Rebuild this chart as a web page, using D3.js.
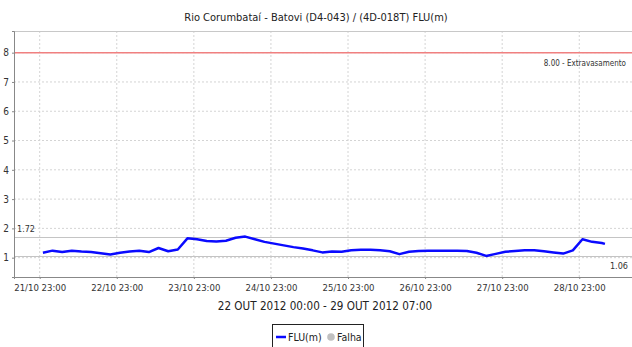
<!DOCTYPE html>
<html>
<head>
<meta charset="utf-8">
<script src="https://cdn.jsdelivr.net/npm/d3@7"></script>
<style>
  html, body { margin: 0; padding: 0; background: #fff; }
  svg { display: block; font-family: "DejaVu Sans Condensed", "DejaVu Sans", sans-serif; }
</style>
</head>
<body>
<svg id="chart" width="632" height="347"></svg>
<script>
// Series: hourly offsets from 22/10/2012 00:00 and river level FLU (m)
const startTime = new Date(2012, 9, 22, 0, 0);
const hours = [0, 3, 6, 9, 12, 15, 18, 21, 24, 27, 30, 33, 36, 39, 42, 45, 48, 51, 54, 57,
  60, 63, 66, 69, 72, 75, 78, 81, 84, 87, 90, 93, 96, 99, 102, 105, 108, 111, 114, 117,
  120, 123, 126, 129, 132, 135, 138, 141, 144, 147, 150, 153, 156, 159, 162, 165, 168, 171, 174, 175];
const levels = [1.17, 1.24, 1.19, 1.24, 1.21, 1.19, 1.15, 1.11, 1.17, 1.21, 1.24, 1.19, 1.33, 1.22, 1.28, 1.66, 1.63, 1.57, 1.55, 1.58,
  1.68, 1.72, 1.63, 1.54, 1.48, 1.42, 1.36, 1.31, 1.25, 1.18, 1.21, 1.20, 1.25, 1.27, 1.27, 1.25, 1.22, 1.12, 1.20, 1.23,
  1.24, 1.24, 1.24, 1.24, 1.23, 1.17, 1.06, 1.13, 1.20, 1.23, 1.25, 1.25, 1.22, 1.18, 1.14, 1.25, 1.63, 1.54, 1.50, 1.47];

// Axis ticks
const xTickDays = [21, 22, 23, 24, 25, 26, 27, 28];
const xTickLabels = ["21/10 23:00", "22/10 23:00", "23/10 23:00", "24/10 23:00", "25/10 23:00", "26/10 23:00", "27/10 23:00", "28/10 23:00"];
const yTicks = [1, 2, 3, 4, 5, 6, 7, 8];

// Reference levels
const floodLevel = 8.00;
const floodLabel = "8.00 - Extravasamento";

const title = "Rio Corumbataí - Batovi (D4-043) / (4D-018T) FLU(m)";
const xTitle = "22 OUT 2012 00:00 - 29 OUT 2012 07:00";
const legendItems = ["FLU(m)", "Falha"];

const data = hours.map((h, i) => ({ t: d3.timeHour.offset(startTime, h), v: levels[i] }));
const maxV = d3.max(levels), minV = d3.min(levels);

const svg = d3.select("#chart");
const plotL = 14, plotR = 636, plotT = 31, plotB = 277;

const x = d3.scaleTime()
  .domain([new Date(2012, 9, 21, 15, 0), new Date(2012, 9, 29, 16, 40)])
  .range([plotL, plotR]);
const y = d3.scaleLinear().domain([0.34, 8.74]).range([plotB, plotT]);

// Title
svg.append("text").attr("x", 316).attr("y", 21).attr("text-anchor", "middle")
  .attr("font-size", 11).attr("fill", "#222").text(title);

// Grid
const grid = svg.append("g");
grid.selectAll(".gy").data(yTicks).join("line")
  .attr("x1", plotL).attr("x2", plotR).attr("y1", d => y(d)).attr("y2", d => y(d))
  .attr("stroke", "#d4d4d4").attr("stroke-dasharray", "2,2");
const xTickDates = xTickDays.map(d => new Date(2012, 9, d, 23, 0));
grid.selectAll(".gx").data(xTickDates).join("line")
  .attr("x1", d => x(d)).attr("x2", d => x(d)).attr("y1", plotT).attr("y2", plotB)
  .attr("stroke", "#d4d4d4").attr("stroke-dasharray", "2,2");

// Plot frame top
svg.append("line").attr("x1", plotL).attr("x2", plotR).attr("y1", plotT + 0.5).attr("y2", plotT + 0.5)
  .attr("stroke", "#c8c8c8");

// Max / min lines
[maxV, minV].forEach(v => {
  svg.append("line").attr("x1", plotL).attr("x2", plotR)
    .attr("y1", Math.round(y(v)) + 0.5).attr("y2", Math.round(y(v)) + 0.5)
    .attr("stroke", "#c4c4c4").attr("stroke-width", 1);
});
svg.append("text").attr("x", plotL + 3).attr("y", y(maxV) - 5).attr("font-size", 9)
  .attr("fill", "#333").text(maxV.toFixed(2));
svg.append("text").attr("x", 628).attr("y", y(minV) + 13).attr("font-size", 9)
  .attr("text-anchor", "end").attr("fill", "#333").text(minV.toFixed(2));

// Flood level
svg.append("line").attr("x1", plotL).attr("x2", plotR)
  .attr("y1", y(floodLevel)).attr("y2", y(floodLevel))
  .attr("stroke", "#f08080").attr("stroke-width", 1.5);
svg.append("text").attr("x", 626).attr("y", y(floodLevel) + 13).attr("font-size", 8)
  .attr("text-anchor", "end").attr("fill", "#333").text(floodLabel);

// Axes
const yAxis = svg.append("g").attr("transform", `translate(${plotL},0)`)
  .call(d3.axisLeft(y).tickValues(yTicks).tickFormat(d3.format("d")).tickSize(2).tickPadding(3));
const xAxis = svg.append("g").attr("transform", `translate(0,${plotB})`)
  .call(d3.axisBottom(x).tickValues(xTickDates).tickFormat((d, i) => xTickLabels[i]).tickSize(2).tickPadding(5));
[yAxis, xAxis].forEach(a => {
  a.select(".domain").attr("stroke", "#888");
  a.selectAll(".tick line").attr("stroke", "#888");
  a.selectAll(".tick text").attr("fill", "#333").attr("font-size", 9.5)
    .attr("font-family", "\"DejaVu Sans Condensed\", sans-serif");
});
yAxis.selectAll(".tick text").attr("font-size", 10);

// Series line
const line = d3.line().x(d => x(d.t)).y(d => y(d.v)).curve(d3.curveLinear);
svg.append("path").datum(data).attr("d", line)
  .attr("fill", "none").attr("stroke", "#0a0aff").attr("stroke-width", 2.5)
  .attr("stroke-linejoin", "round");

// X axis title
svg.append("text").attr("x", 325).attr("y", 310).attr("text-anchor", "middle")
  .attr("font-size", 11.6).attr("fill", "#222").text(xTitle);

// Legend
const lg = svg.append("g");
lg.append("rect").attr("x", 272.5).attr("y", 324.5).attr("width", 91).attr("height", 30)
  .attr("fill", "#fff").attr("stroke", "#222");
lg.append("line").attr("x1", 276).attr("x2", 286).attr("y1", 337).attr("y2", 337)
  .attr("stroke", "#0a0aff").attr("stroke-width", 2.5);
lg.append("text").attr("x", 288).attr("y", 341).attr("font-size", 10.5).attr("fill", "#222").text(legendItems[0]);
lg.append("circle").attr("cx", 331).attr("cy", 337).attr("r", 3.8).attr("fill", "#c0c0c0");
lg.append("text").attr("x", 337).attr("y", 341).attr("font-size", 10.5).attr("fill", "#222").text(legendItems[1]);
</script>
</body>
</html>
